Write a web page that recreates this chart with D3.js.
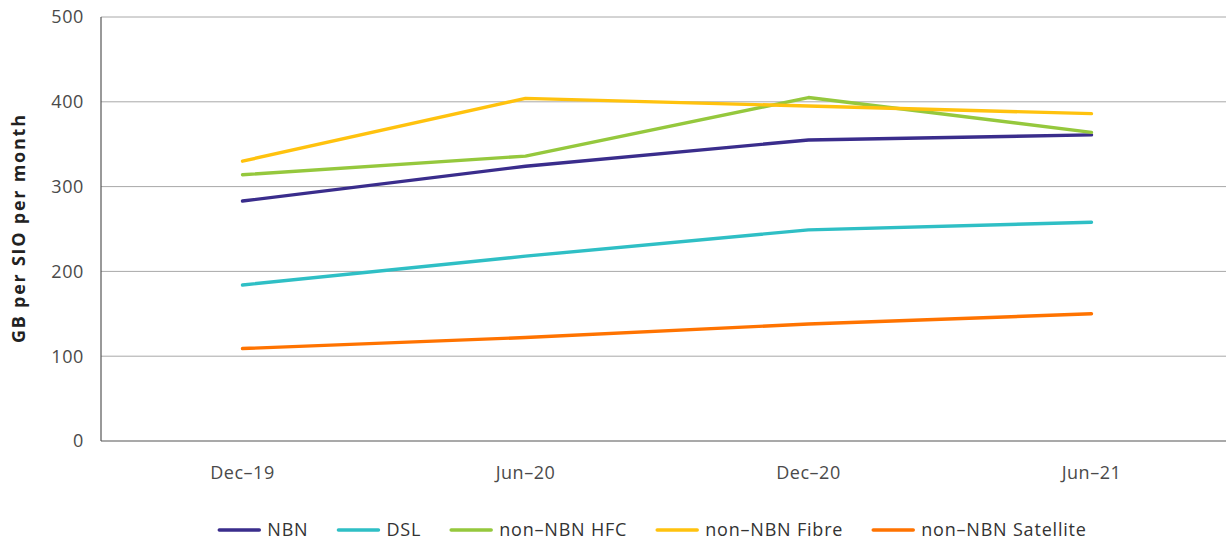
<!DOCTYPE html>
<html><head><meta charset="utf-8">
<script src="https://cdn.jsdelivr.net/npm/d3@7/dist/d3.min.js"></script>
<style>body{margin:0;background:#fff}svg{display:block;font-family:"Open Sans",sans-serif}</style>
</head><body><svg id="c" width="1226" height="541"></svg>
<script>
const categories = ["Dec-19","Jun-20","Dec-20","Jun-21"];
const seriesNames = ["NBN","DSL","non-NBN HFC","non-NBN Fibre","non-NBN Satellite"];
const nbn = [283,324,355,361];
const dsl = [184,218,249,258];
const hfc = [314,336,405,364];
const fibre = [330,404,395,386];
const satellite = [109,122,138,150];
const yTicks = [0,100,200,300,400,500];
const colors = ["#3a2d8c","#2fbfc5","#95c83d","#ffc20e","#ff7300"];
const values = [nbn,dsl,hfc,fibre,satellite];

const svg = d3.select("#c");
const L=101, R=1233, T=17, B=441;
const x = d3.scalePoint().domain(categories).range([L,R]).padding(0.5);
const y = d3.scaleLinear().domain([0,500]).range([B,T]);

svg.append("g").selectAll("line").data(yTicks.filter(d=>d>0)).join("line")
  .attr("x1",L).attr("x2",1226).attr("y1",d=>y(d)).attr("y2",d=>y(d))
  .attr("stroke","#a8a8a8").attr("stroke-width",1);

svg.append("g").selectAll("text").data(yTicks).join("text")
  .attr("x",84).attr("y",d=>y(d)).attr("dy","0.36em").attr("text-anchor","end")
  .attr("font-size",18).attr("letter-spacing","0.6px").attr("fill","#4a4a4a").text(d=>d);

svg.append("line").attr("x1",L).attr("x2",L).attr("y1",T).attr("y2",B).attr("stroke","#555").attr("stroke-width",1.2);
svg.append("line").attr("x1",L).attr("x2",1226).attr("y1",B).attr("y2",B).attr("stroke","#555").attr("stroke-width",1.2);

svg.append("g").selectAll("text").data(categories).join("text")
  .attr("x",d=>x(d)).attr("y",479).attr("text-anchor","middle")
  .attr("font-size",18).attr("letter-spacing","0.5px").attr("fill","#4a4a4a").text(d=>d.replace("-","–"));

svg.append("text").attr("transform",`translate(25,${(T+B)/2}) rotate(-90)`)
  .attr("text-anchor","middle").attr("font-size",18).attr("font-weight","bold").attr("fill","#222")
  .attr("textLength",228).attr("lengthAdjust","spacing")
  .text("GB per SIO per month");

const line = d3.line().x((d,i)=>x(categories[i])).y(d=>y(d));
svg.append("g").selectAll("path").data(values).join("path")
  .attr("d",d=>line(d)).attr("fill","none").attr("stroke",(d,i)=>colors[i])
  .attr("stroke-width",3.4).attr("stroke-linecap","round").attr("stroke-linejoin","round");

const lg = svg.append("g");
let cx = 0;
const gap = 30;
seriesNames.forEach((n,i)=>{
  const g = lg.append("g");
  g.append("line").attr("x1",0).attr("x2",40).attr("y1",0).attr("y2",0)
   .attr("stroke",colors[i]).attr("stroke-width",3.5).attr("stroke-linecap","round");
  const t = g.append("text").attr("x",48).attr("y",0).attr("dy","0.36em")
   .attr("font-size",18).attr("letter-spacing","0.8px").attr("fill","#333").text(n.replace(/-/g,"–"));
  const w = 48 + t.node().getComputedTextLength();
  g.attr("transform",`translate(${cx},0)`);
  cx += w + gap;
});
const total = cx - gap;
lg.attr("transform",`translate(${653 - total/2},530)`);
</script></body></html>
